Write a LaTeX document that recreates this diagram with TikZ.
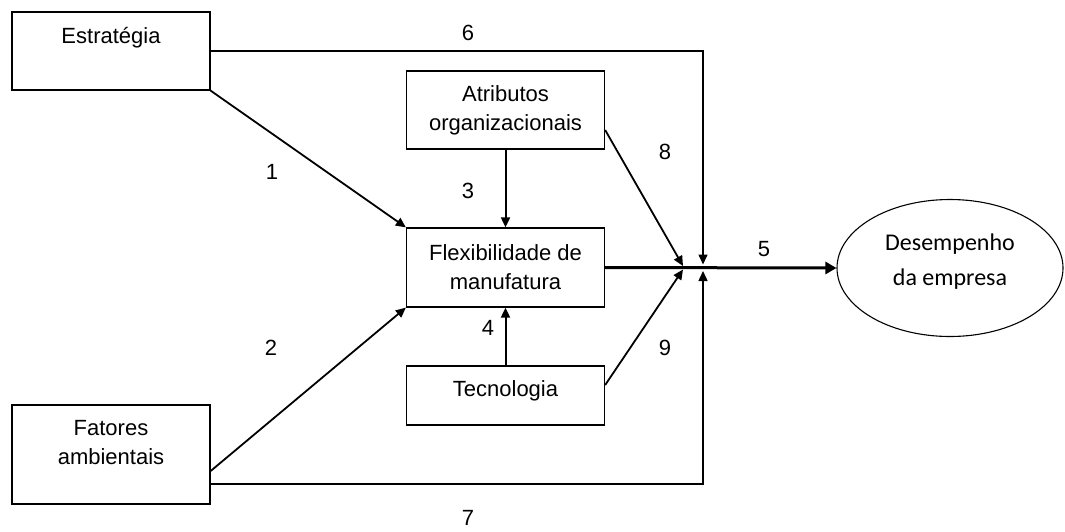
\documentclass[tikz,border=0pt]{standalone}
\usepackage{fontspec}
\setmainfont{Liberation Sans}
\newfontfamily\elfont{Carlito}
\usetikzlibrary{arrows.meta,shapes.geometric}

\tikzset{
  blk/.style={draw, line width=1.3pt, minimum width=198pt, minimum height=78pt, align=center, inner sep=0pt},
  num/.style={inner sep=0pt},
  lnk/.style={line width=1.8pt, -{Triangle[length=10pt,width=9pt]}},
  fino/.style={line width=1.5pt, -{Triangle[length=10pt,width=9pt]}},
  grosso/.style={line width=3pt, -{Triangle[length=11pt,width=12pt]}},
}

\begin{document}
\begin{tikzpicture}[x=1pt, y=-1pt, font=\fontsize{22}{29}\selectfont]
  \useasboundingbox (0,0) rectangle (1065,531);
  % blocos
  \node[blk, text height=16pt, text depth=32pt] (estr) at (111,51) {Estratégia};
  \node[blk] (atr) at (505.5,110) {Atributos\\organizacionais};
  \node[blk, minimum height=79pt] (flex) at (505.5,267.5) {Flexibilidade de\\manufatura};
  \node[blk, minimum height=59pt, text height=16pt, text depth=15pt] (tec) at (505.5,395.5) {Tecnologia};
  \node[blk, minimum height=99pt, text height=45pt, text depth=26pt] (fat) at (111,454.5) {Fatores\\ambientais};
  \node[draw, ellipse, line width=1.1pt, minimum width=226pt, minimum height=137pt, inner sep=0pt,
        align=center, font=\elfont\fontsize{24}{35}\selectfont, text height=52pt, text depth=17pt] (desemp) at (950,268) {Desempenho\\da empresa};
  \coordinate (jl) at (683,267.5);
  \coordinate (jr) at (703,267.5);
  % conexoes
  \draw[lnk] (estr.south east) -- (flex.north west);
  \draw[lnk] ([yshift=-16.5pt]fat.east) -- (flex.south west);
  \draw[lnk, line width=2pt] (atr.south) -- (flex.north);
  \draw[lnk, line width=2pt] (tec.north) -- (flex.south);
  \draw[grosso] (flex.east) -- (desemp.west);
  \draw[lnk] ([yshift=-20pt]atr.east) -- ([yshift=1.5pt]jl);
  \draw[lnk] ([yshift=10.5pt]tec.east) -- ([yshift=-2pt]jl);
  \draw[fino] (estr.east) -| ([yshift=3pt]jr);
  \draw[fino] ([yshift=-29.5pt]fat.east) -| ([yshift=-3.5pt]jr);
  % numeros
  \node[num] (n1) at (272,172) {1};
  \node[num] (n2) at (271,348) {2};
  \node[num] (n3) at (468,191) {3};
  \node[num] (n4) at (488,328) {4};
  \node[num] (n5) at (764,249) {5};
  \node[num] (n6) at (468,33) {6};
  \node[num] (n7) at (468,518) {7};
  \node[num] (n8) at (665,152) {8};
  \node[num] (n9) at (665,348) {9};
\end{tikzpicture}
\end{document}
